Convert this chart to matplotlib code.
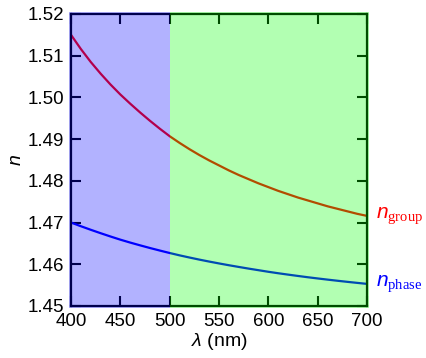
import numpy as np
import matplotlib
matplotlib.use("Agg")
import matplotlib.pyplot as plt

plt.rcParams["font.family"] = ["Liberation Sans", "DejaVu Sans"]
plt.rcParams["mathtext.fontset"] = "custom"
plt.rcParams["mathtext.rm"] = "Liberation Serif"
plt.rcParams["mathtext.it"] = "Liberation Sans:italic"

# wavelength (nm) and refractive indices
wavelength = [400, 410, 420, 430, 440, 450, 460, 470, 480, 490, 500,
              510, 520, 530, 540, 550, 560, 570, 580, 590, 600,
              610, 620, 630, 640, 650, 660, 670, 680, 690, 700]
n_group = [1.5150, 1.5116, 1.5085, 1.5057, 1.5031, 1.5007, 1.4985, 1.4964,
           1.4944, 1.4925, 1.4907, 1.4891, 1.4876, 1.4862, 1.4849, 1.4837,
           1.4825, 1.4814, 1.4804, 1.4794, 1.4785, 1.4776, 1.4768, 1.4760,
           1.4753, 1.4746, 1.4739, 1.4733, 1.4727, 1.4721, 1.4716]
n_phase = [1.47000, 1.46912, 1.46827, 1.46745, 1.46666, 1.46590, 1.46520,
           1.46454, 1.46390, 1.46329, 1.46270, 1.46214, 1.46162, 1.46112,
           1.46065, 1.46020, 1.45977, 1.45936, 1.45896, 1.45858, 1.45820,
           1.45785, 1.45752, 1.45720, 1.45689, 1.45660, 1.45632, 1.45605,
           1.45579, 1.45554, 1.45530]

x_ticks = [400, 450, 500, 550, 600, 650, 700]
y_ticks = [1.45, 1.46, 1.47, 1.48, 1.49, 1.50, 1.51, 1.52]

fig = plt.figure(figsize=(4.26, 3.58), dpi=100)
ax = fig.add_axes([0.1667, 0.1453, 0.6948, 0.8156])

ax.plot(wavelength, n_group, color="red", lw=1.6, zorder=2)
ax.plot(wavelength, n_phase, color="blue", lw=1.6, zorder=2)

# tinted bands drawn on top of everything, spines included
ax.axvspan(398.4, 500, ymin=-0.006, ymax=1.006, color="#0000ff", alpha=0.3,
           lw=0, zorder=5, clip_on=False)
ax.axvspan(500, 701.6, ymin=-0.006, ymax=1.006, color="#00ff00", alpha=0.3,
           lw=0, zorder=5, clip_on=False)

ax.set_xlim(400, 700)
ax.set_ylim(1.45, 1.52)
ax.set_xticks(x_ticks)
ax.set_yticks(y_ticks)
ax.set_yticklabels(["{:.2f}".format(v) for v in y_ticks])
ax.tick_params(direction="in", length=7, width=1.5, labelsize=13.5,
               top=True, right=True, pad=5)
for sp in ax.spines.values():
    sp.set_linewidth(1.6)

ax.set_xlabel(r"$\lambda$ (nm)", fontsize=14, labelpad=1)
ax.set_ylabel("n", fontsize=14, fontstyle="italic", labelpad=2)

ax.text(709, n_group[-1], r"$n_{\mathrm{group}}$", color="red", fontsize=15,
        va="center", ha="left", clip_on=False)
ax.text(709, n_phase[-1], r"$n_{\mathrm{phase}}$", color="blue", fontsize=15,
        va="center", ha="left", clip_on=False)

plt.savefig("out.png", dpi=100)
